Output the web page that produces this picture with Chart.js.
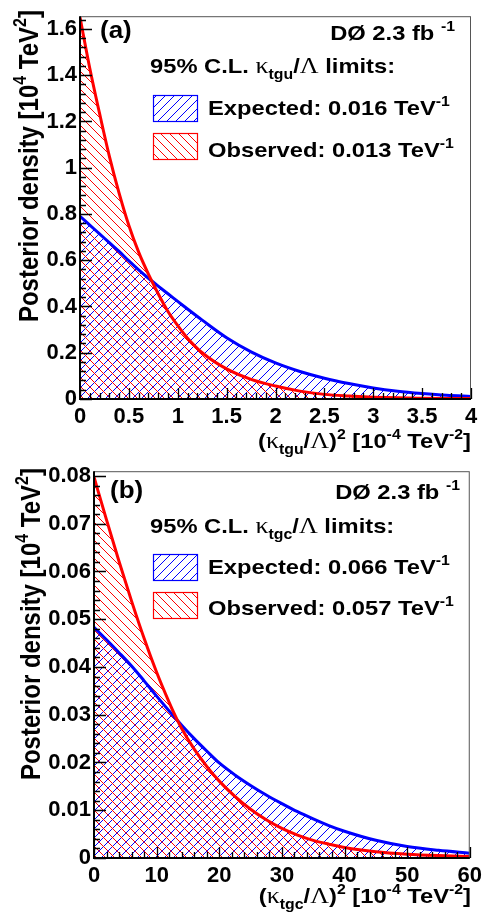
<!DOCTYPE html>
<html>
<head>
<meta charset="utf-8">
<title>Posterior density</title>
<script src="https://cdn.jsdelivr.net/npm/chart.js@4.4.1/dist/chart.umd.min.js"></script>
<style>
    html, body { margin: 0; padding: 0; background: #fff; }
    #wrap { position: relative; width: 487px; height: 915px; overflow: hidden; }
    #cnv-a { position: absolute; left: 0; top: 0; }
    #cnv-b { position: absolute; left: 0; top: 455px; }
</style>
</head>
<body>
<div id="wrap">
    <canvas id="cnv-a" width="487" height="463"></canvas>
    <canvas id="cnv-b" width="487" height="460"></canvas>
</div>
<script>
//--------------------------------------
// Data
//--------------------------------------
// panel (a): (kappa_tgu/Lambda)^2 [1e-4 TeV^-2]
var xA   = [0, 0.1, 0.2, 0.3, 0.4, 0.5, 0.6, 0.7, 0.8, 0.9, 1.0, 1.1, 1.25, 1.5, 1.75, 2.0, 2.25, 2.5, 2.75, 3.0, 3.25, 3.5, 3.75, 4.0];
var expA = [0.79, 0.752, 0.714, 0.676, 0.638, 0.597, 0.558, 0.522, 0.488, 0.455, 0.422, 0.389, 0.341, 0.265, 0.204, 0.156, 0.119, 0.09, 0.067, 0.048, 0.034, 0.024, 0.016, 0.011];
var obsA = [1.65, 1.43, 1.235, 1.05, 0.89, 0.75, 0.635, 0.54, 0.455, 0.378, 0.317, 0.263, 0.2, 0.13, 0.085, 0.056, 0.034, 0.02, 0.013, 0.008, 0.005, 0.0035, 0.0025, 0.002];
var hatchEndA = [2.65, 1.72];           // expected, observed
var xTicksA = [0, 0.5, 1, 1.5, 2, 2.5, 3, 3.5, 4];
var yTicksA = [0, 0.2, 0.4, 0.6, 0.8, 1, 1.2, 1.4, 1.6];

// panel (b): (kappa_tgc/Lambda)^2 [1e-4 TeV^-2]
var xB   = [0, 2, 4, 6, 8, 10, 12, 13, 14, 16, 18, 20, 22.5, 25, 27.5, 30, 32.5, 35, 37.5, 40, 45, 50, 55, 60];
var expB = [0.0483, 0.0457, 0.043, 0.0402, 0.0371, 0.0339, 0.0308, 0.0293, 0.0278, 0.025, 0.0224, 0.0199, 0.0174, 0.0152, 0.0132, 0.0114, 0.0097, 0.0082, 0.0068, 0.0056, 0.0037, 0.0024, 0.0016, 0.001];
var obsB = [0.0798, 0.0708, 0.0621, 0.0538, 0.046, 0.0389, 0.0326, 0.0297, 0.0271, 0.0228, 0.0192, 0.0161, 0.0129, 0.0102, 0.008, 0.0062, 0.0048, 0.0037, 0.0029, 0.0022, 0.0013, 0.0008, 0.0005, 0.0003];
var hatchEndB = [43.5, 32.6];
var xTicksB = [0, 10, 20, 30, 40, 50, 60];
var yTicksB = [0, 0.01, 0.02, 0.03, 0.04, 0.05, 0.06, 0.07, 0.08];

(function(win){

    var SX = 1.13;  // text in the picture is a bit wider than it is tall
    var FAM = '"Liberation Sans", Arial, Helvetica, sans-serif';
    var F  = 'bold 21px ' + FAM;
    var FT = 'bold 24px ' + FAM;
    var FS = 'bold 14px ' + FAM;
    var FST = 'bold 16px ' + FAM;
    var FG = '23px "Liberation Serif", "Times New Roman", serif';
    var RED = '#ff0000';
    var BLUE = '#0000ff';

    var init = function(){
        setChartA();
        setChartB();
    };

    //--------------------------------------
    // Helpers
    //--------------------------------------
    var pts = function(xs, ys){
        return xs.map(function(x, i){ return {x: x, y: ys[i]}; });
    };

    var makeHatch = function(color, dir){
        var P = 9;
        var c = document.createElement('canvas');
        c.width = P; c.height = P;
        var g = c.getContext('2d');
        g.fillStyle = color;
        for(var i = 0; i < P; i++){
            if(dir > 0){
                g.fillRect(i, P - 1 - i, 1, 1);
            }else{
                g.fillRect(i, i, 1, 1);
            }
        }
        return g.createPattern(c, 'repeat');
    };

    // parts: [text, font, dy]
    var drawRich = function(ctx, parts, x, y, align, rotate){
        ctx.save();
        ctx.translate(x, y);
        ctx.scale(SX, 1);
        if(rotate){ ctx.rotate(-Math.PI / 2); }
        ctx.fillStyle = '#000';
        ctx.textBaseline = 'alphabetic';
        ctx.textAlign = 'left';
        var w = 0;
        parts.forEach(function(p){ ctx.font = p[1]; w += ctx.measureText(p[0]).width; });
        var cx = (align === 'right') ? -w : 0;
        parts.forEach(function(p){
            ctx.font = p[1];
            ctx.fillText(p[0], cx, p[2] || 0);
            cx += ctx.measureText(p[0]).width;
        });
        ctx.restore();
    };

    //--------------------------------------
    // Plugin: hatch clipping, frame, ticks, texts
    //--------------------------------------
    var rootStyle = {
        id: 'rootStyle',
        beforeDatasetDraw: function(chart, args){
            var ds = chart.data.datasets[args.index];
            if(ds.hatchEnd === undefined){ return; }
            var ctx = chart.ctx, a = chart.chartArea;
            var xe = chart.scales.x.getPixelForValue(ds.hatchEnd);
            ctx.save();
            ctx.beginPath();
            ctx.rect(a.left, a.top, xe - a.left, a.bottom - a.top);
            ctx.clip();
        },
        afterDatasetDraw: function(chart, args){
            var ds = chart.data.datasets[args.index];
            if(ds.hatchEnd === undefined){ return; }
            chart.ctx.restore();
        },
        afterDraw: function(chart, args, opts){
            var ctx = chart.ctx, a = chart.chartArea;
            var sx = chart.scales.x, sy = chart.scales.y;
            var i, v, p;

            // frame
            ctx.save();
            ctx.strokeStyle = '#555';
            ctx.lineWidth = 1;
            ctx.strokeRect(a.left + 0.5, a.top + 0.5, a.right - a.left - 1, a.bottom - a.top);
            ctx.strokeStyle = '#000';
            ctx.lineWidth = 2;
            ctx.beginPath();
            ctx.moveTo(a.left, a.top);
            ctx.lineTo(a.left, a.bottom);
            ctx.lineTo(a.right, a.bottom);
            ctx.stroke();

            // ticks, inside the frame
            ctx.lineWidth = 1.3;
            ctx.beginPath();
            for(i = 0; ; i++){
                v = i * opts.yMinor;
                if(v > sy.max + 1e-9){ break; }
                p = Math.round(sy.getPixelForValue(v)) + 0.5;
                ctx.moveTo(a.left, p);
                ctx.lineTo(a.left + (i % 5 === 0 ? 12 : 6), p);
            }
            for(i = 0; ; i++){
                v = i * opts.xMinor;
                if(v > sx.max + 1e-9){ break; }
                p = Math.round(sx.getPixelForValue(v)) + 0.5;
                ctx.moveTo(p, a.bottom);
                ctx.lineTo(p, a.bottom - (i % 5 === 0 ? 11 : 6));
            }
            ctx.stroke();

            // legend boxes
            var boxes = [[opts.box1, BLUE, opts.hatchBlue], [opts.box2, RED, opts.hatchRed]];
            boxes.forEach(function(b){
                ctx.fillStyle = b[2];
                ctx.fillRect(b[0][0], b[0][1], 44, 26);
                ctx.strokeStyle = b[1];
                ctx.lineWidth = 1.2;
                ctx.strokeRect(b[0][0] + 0.5, b[0][1] + 0.5, 44, 26);
            });
            ctx.restore();

            // texts
            var t = opts.text;
            drawRich(ctx, [[t.tag, 'bold 23px ' + FAM]], t.tagPos[0], t.tagPos[1]);
            drawRich(ctx, [['D\u00d8 2.3 fb ', F], ['-1', FS, -9]], t.lumiPos[0], t.lumiPos[1], 'right');
            drawRich(ctx, [['95% C.L. ', F], ['\u03ba', FG], [t.sub, FS, 6], ['/', F], ['\u039b', FG], [' limits:', F]], 150, t.clY);
            drawRich(ctx, [['Expected: ' + t.exp + ' TeV', F], ['-1', FS, -9]], 208, t.expY);
            drawRich(ctx, [['Observed: ' + t.obs + ' TeV', F], ['-1', FS, -9]], 208, t.obsY);
            drawRich(ctx, [['(', F], ['\u03ba', FG], [t.sub, FS, 6], ['/', F], ['\u039b', FG], [')', F], ['2', FS, -9],
                           [' [10', F], ['-4', FS, -9], [' TeV', F], ['-2', FS, -9], [']', F]], 471, t.xTitleY, 'right');
            drawRich(ctx, [['Posterior density [10', FT], ['4', FST, -10], [' TeV', FT], ['2', FST, -10], [']', FT]],
                     t.yTitlePos[0], t.yTitlePos[1], 'right', true);
        }
    };

    //--------------------------------------
    // Chart builder
    //--------------------------------------
    var buildChart = function(cnv, c){
        var hatchBlue = makeHatch(BLUE, 1);
        var hatchRed = makeHatch(RED, -1);
        var tickFont = {family: FAM, size: 22, weight: 'bold'};

        var line = function(xs, ys, color, order){
            return {
                data: pts(xs, ys), borderColor: color, borderWidth: 3, fill: false,
                pointRadius: 0, cubicInterpolationMode: 'monotone', order: order
            };
        };
        var area = function(xs, ys, pattern, end, order){
            return {
                data: pts(xs, ys), borderWidth: 0, borderColor: 'rgba(0,0,0,0)', backgroundColor: pattern,
                fill: 'origin', pointRadius: 0, cubicInterpolationMode: 'monotone', order: order, hatchEnd: end
            };
        };

        return new Chart(cnv, {
            type: 'line',
            data: {
                datasets: [
                    line(c.x, c.obs, RED, 0),
                    line(c.x, c.exp, BLUE, 1),
                    area(c.x, c.obs, hatchRed, c.hatchEnd[1], 2),
                    area(c.x, c.exp, hatchBlue, c.hatchEnd[0], 3)
                ]
            },
            options: {
                responsive: false,
                animation: false,
                events: [],
                layout: {padding: {top: c.top, right: 16, left: 0, bottom: 0}},
                plugins: {
                    legend: {display: false},
                    tooltip: {enabled: false},
                    rootStyle: {
                        xMinor: c.xMinor, yMinor: c.yMinor,
                        box1: c.box1, box2: c.box2,
                        hatchBlue: hatchBlue, hatchRed: hatchRed,
                        text: c.text
                    }
                },
                scales: {
                    x: {
                        type: 'linear', min: c.xTicks[0], max: c.xTicks[c.xTicks.length - 1],
                        grid: {display: false, drawTicks: false},
                        border: {display: false},
                        afterBuildTicks: function(s){ s.ticks = c.xTicks.map(function(v){ return {value: v}; }); },
                        afterFit: function(s){ s.height = c.xHeight; },
                        ticks: {
                            font: tickFont, color: '#000', padding: 5, autoSkip: false, maxRotation: 0,
                            callback: function(v){ return String(+v.toFixed(3)); }
                        }
                    },
                    y: {
                        type: 'linear', min: 0, max: c.yMax,
                        grid: {display: false, drawTicks: false},
                        border: {display: false},
                        afterBuildTicks: function(s){ s.ticks = c.yTicks.map(function(v){ return {value: v}; }); },
                        afterFit: function(s){ s.width = c.yWidth; },
                        ticks: {
                            font: tickFont, color: '#000', padding: 3, autoSkip: false,
                            callback: function(v){ return String(+v.toFixed(3)); }
                        }
                    }
                }
            },
            plugins: [rootStyle]
        });
    };

    var setChartA = function(){
        buildChart(document.getElementById('cnv-a'), {
            x: xA, exp: expA, obs: obsA, hatchEnd: hatchEndA,
            xTicks: xTicksA, yTicks: yTicksA, xMinor: 0.1, yMinor: 0.04, yMax: 1.655,
            top: 10, yWidth: 80, xHeight: 64,
            box1: [153, 95], box2: [153, 133],
            text: {
                tag: '(a)', tagPos: [100, 38], lumiPos: [455, 40], sub: 'tgu',
                clY: 73, exp: '0.016', obs: '0.013', expY: 115, obsY: 157,
                xTitleY: 448, yTitlePos: [37.5, 10]
            }
        });
    };

    var setChartB = function(){
        buildChart(document.getElementById('cnv-b'), {
            x: xB, exp: expB, obs: obsB, hatchEnd: hatchEndB,
            xTicks: xTicksB, yTicks: yTicksB, xMinor: 2, yMinor: 0.002, yMax: 0.081,
            top: 14, yWidth: 94, xHeight: 57,
            box1: [153, 99], box2: [153, 137],
            text: {
                tag: '(b)', tagPos: [110, 43], lumiPos: [460, 44], sub: 'tgc',
                clY: 78, exp: '0.066', obs: '0.057', expY: 119, obsY: 160,
                xTitleY: 448, yTitlePos: [39.5, 13]
            }
        });
    };

    init();

})(window);
</script>
</body>
</html>
